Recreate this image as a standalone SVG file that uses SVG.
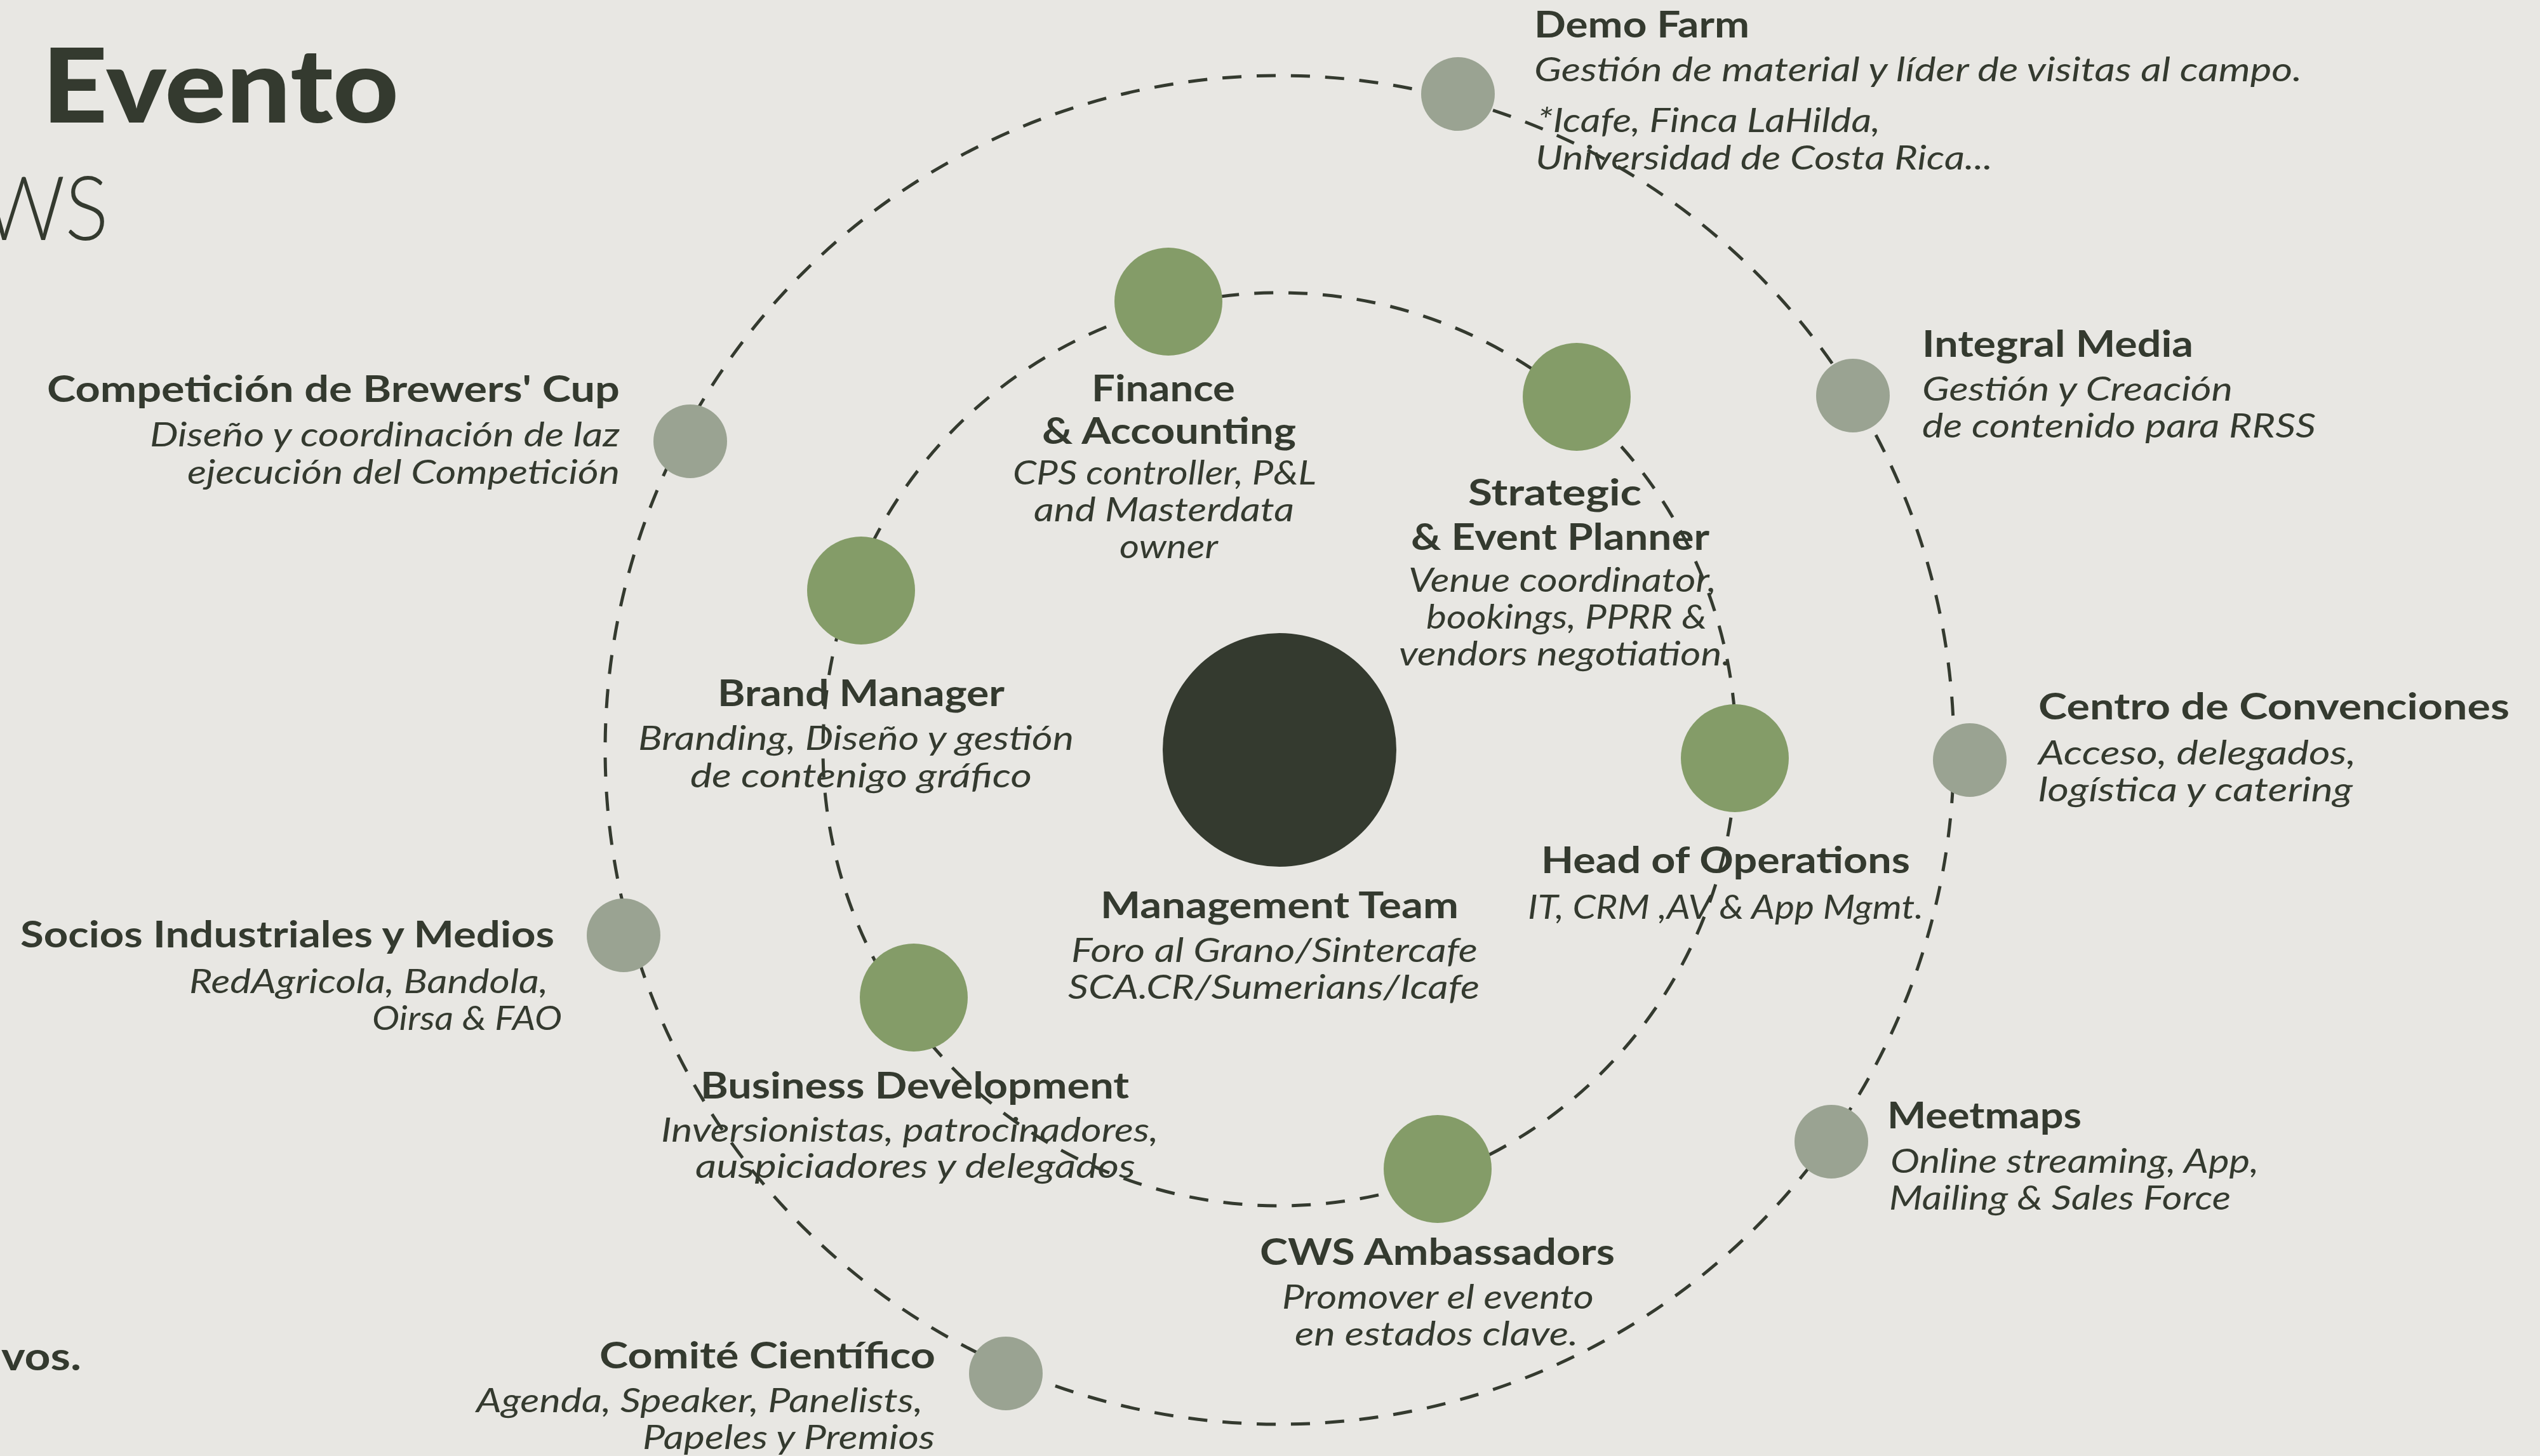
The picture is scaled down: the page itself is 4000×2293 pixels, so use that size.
<svg xmlns="http://www.w3.org/2000/svg" width="4000" height="2293" viewBox="0 0 4000 2293">
<style>
.bg{fill:#E8E7E3}
.ring{fill:none;stroke:#343A2F;stroke-width:5;stroke-dasharray:30 24}
.core{fill:#343A2F}
.inner{fill:#849C68}
.outer{fill:#9AA392}
text{fill:#343A2F;font-family:Lato,"Noto Sans","Liberation Sans",sans-serif}
.t{font-size:58px;font-weight:700}
.d{font-size:52px;font-style:italic;font-weight:400}
.h1{font-size:162px;font-weight:900}
.h2{font-size:140px;font-weight:300}
.h3{font-size:62px;font-weight:700}
</style>
<rect class="bg" x="0" y="0" width="4000" height="2293"/>
<g id="heading">
<text class="h1" x="66" y="193" textLength="562" lengthAdjust="spacingAndGlyphs">Evento</text>
<text class="h2" x="-28" y="378" textLength="199" lengthAdjust="spacingAndGlyphs">WS</text>
<text class="h3" x="2" y="2158" textLength="126" lengthAdjust="spacingAndGlyphs">vos.</text>
</g>
<g id="connectors">
<circle class="ring" cx="2015" cy="1180" r="719"/>
<circle class="ring" cx="2015" cy="1181" r="1062"/>
</g>
<g id="management-team">
<circle class="core" cx="2015" cy="1181" r="184"/>
<text class="t" x="1733" y="1446" textLength="564" lengthAdjust="spacingAndGlyphs">Management Team</text>
<text class="d" x="1687" y="1515" textLength="640" lengthAdjust="spacingAndGlyphs">Foro al Grano/Sintercafe</text>
<text class="d" x="1682" y="1573" textLength="648" lengthAdjust="spacingAndGlyphs">SCA.CR/Sumerians/Icafe</text>
</g>
<g id="finance">
<circle class="inner" cx="1840" cy="475" r="85"/>
<text class="t" x="1719" y="632" textLength="226" lengthAdjust="spacingAndGlyphs">Finance</text>
<text class="t" x="1641" y="699" textLength="400" lengthAdjust="spacingAndGlyphs">&amp; Accounting</text>
<text class="d" x="1595" y="763" textLength="478" lengthAdjust="spacingAndGlyphs">CPS controller, P&amp;L</text>
<text class="d" x="1628" y="821" textLength="410" lengthAdjust="spacingAndGlyphs">and Masterdata</text>
<text class="d" x="1763" y="879" textLength="155" lengthAdjust="spacingAndGlyphs">owner</text>
</g>
<g id="strategic">
<circle class="inner" cx="2483" cy="625" r="85"/>
<text class="t" x="2312" y="796" textLength="273" lengthAdjust="spacingAndGlyphs">Strategic</text>
<text class="t" x="2222" y="866" textLength="470" lengthAdjust="spacingAndGlyphs">&amp; Event Planner</text>
<text class="d" x="2218" y="932" textLength="485" lengthAdjust="spacingAndGlyphs">Venue coordinator,</text>
<text class="d" x="2246" y="990" textLength="442" lengthAdjust="spacingAndGlyphs">bookings, PPRR &amp;</text>
<text class="d" x="2203" y="1048" textLength="523" lengthAdjust="spacingAndGlyphs">vendors negotiation.</text>
</g>
<g id="brand-manager">
<circle class="inner" cx="1356" cy="930" r="85"/>
<text class="t" x="1130" y="1112" textLength="452" lengthAdjust="spacingAndGlyphs">Brand Manager</text>
<text class="d" x="1005" y="1181" textLength="686" lengthAdjust="spacingAndGlyphs">Branding, Diseño y gestión</text>
<text class="d" x="1087" y="1240" textLength="538" lengthAdjust="spacingAndGlyphs">de contenigo gráfico</text>
</g>
<g id="head-of-operations">
<circle class="inner" cx="2732" cy="1194" r="85"/>
<text class="t" x="2427" y="1375" textLength="581" lengthAdjust="spacingAndGlyphs">Head of Operations</text>
<text class="d" x="2406" y="1447" textLength="623" lengthAdjust="spacingAndGlyphs">IT, CRM ,AV &amp; App Mgmt.</text>
</g>
<g id="business-development">
<circle class="inner" cx="1439" cy="1571" r="85"/>
<text class="t" x="1103" y="1730" textLength="675" lengthAdjust="spacingAndGlyphs">Business Development</text>
<text class="d" x="1041" y="1798" textLength="783" lengthAdjust="spacingAndGlyphs">Inversionistas, patrocinadores,</text>
<text class="d" x="1095" y="1855" textLength="693" lengthAdjust="spacingAndGlyphs">auspiciadores y delegados</text>
</g>
<g id="cws-ambassadors">
<circle class="inner" cx="2264" cy="1841" r="85"/>
<text class="t" x="1984" y="1992" textLength="559" lengthAdjust="spacingAndGlyphs">CWS Ambassadors</text>
<text class="d" x="2019" y="2061" textLength="491" lengthAdjust="spacingAndGlyphs">Promover el evento</text>
<text class="d" x="2039" y="2119" textLength="446" lengthAdjust="spacingAndGlyphs">en estados clave.</text>
</g>
<g id="brewers-cup">
<circle class="outer" cx="1087" cy="695" r="58"/>
<text class="t" x="74" y="633" textLength="902" lengthAdjust="spacingAndGlyphs">Competición de Brewers' Cup</text>
<text class="d" x="236" y="703" textLength="740" lengthAdjust="spacingAndGlyphs">Diseño y coordinación de laz</text>
<text class="d" x="295" y="762" textLength="681" lengthAdjust="spacingAndGlyphs">ejecución del Competición</text>
</g>
<g id="demo-farm">
<circle class="outer" cx="2296" cy="148" r="58"/>
<text class="t" x="2416" y="59" textLength="339" lengthAdjust="spacingAndGlyphs">Demo Farm</text>
<text class="d" x="2416" y="128" textLength="1209" lengthAdjust="spacingAndGlyphs">Gestión de material y líder de visitas al campo.</text>
<text class="d" x="2421" y="208" textLength="540" lengthAdjust="spacingAndGlyphs">*Icafe, Finca LaHilda,</text>
<text class="d" x="2418" y="267" textLength="720" lengthAdjust="spacingAndGlyphs">Universidad de Costa Rica...</text>
</g>
<g id="integral-media">
<circle class="outer" cx="2918" cy="623" r="58"/>
<text class="t" x="3027" y="562" textLength="427" lengthAdjust="spacingAndGlyphs">Integral Media</text>
<text class="d" x="3027" y="631" textLength="489" lengthAdjust="spacingAndGlyphs">Gestión y Creación</text>
<text class="d" x="3027" y="689" textLength="620" lengthAdjust="spacingAndGlyphs">de contenido para RRSS</text>
</g>
<g id="centro-convenciones">
<circle class="outer" cx="3102" cy="1197" r="58"/>
<text class="t" x="3210" y="1133" textLength="742" lengthAdjust="spacingAndGlyphs">Centro de Convenciones</text>
<text class="d" x="3210" y="1204" textLength="500" lengthAdjust="spacingAndGlyphs">Acceso, delegados,</text>
<text class="d" x="3210" y="1262" textLength="495" lengthAdjust="spacingAndGlyphs">logística y catering</text>
</g>
<g id="meetmaps">
<circle class="outer" cx="2884" cy="1798" r="58"/>
<text class="t" x="2972" y="1777" textLength="306" lengthAdjust="spacingAndGlyphs">Meetmaps</text>
<text class="d" x="2977" y="1847" textLength="580" lengthAdjust="spacingAndGlyphs">Online streaming, App,</text>
<text class="d" x="2975" y="1905" textLength="538" lengthAdjust="spacingAndGlyphs">Mailing &amp; Sales Force</text>
</g>
<g id="comite-cientifico">
<circle class="outer" cx="1584" cy="2163" r="58"/>
<text class="t" x="944" y="2155" textLength="529" lengthAdjust="spacingAndGlyphs">Comité Científico</text>
<text class="d" x="750" y="2224" textLength="703" lengthAdjust="spacingAndGlyphs">Agenda, Speaker, Panelists,</text>
<text class="d" x="1012" y="2282" textLength="460" lengthAdjust="spacingAndGlyphs">Papeles y Premios</text>
</g>
<g id="socios-industriales">
<circle class="outer" cx="982" cy="1473" r="58"/>
<text class="t" x="32" y="1492" textLength="841" lengthAdjust="spacingAndGlyphs">Socios Industriales y Medios</text>
<text class="d" x="298" y="1564" textLength="565" lengthAdjust="spacingAndGlyphs">RedAgricola, Bandola,</text>
<text class="d" x="586" y="1622" textLength="299" lengthAdjust="spacingAndGlyphs">Oirsa &amp; FAO</text>
</g>
</svg>
